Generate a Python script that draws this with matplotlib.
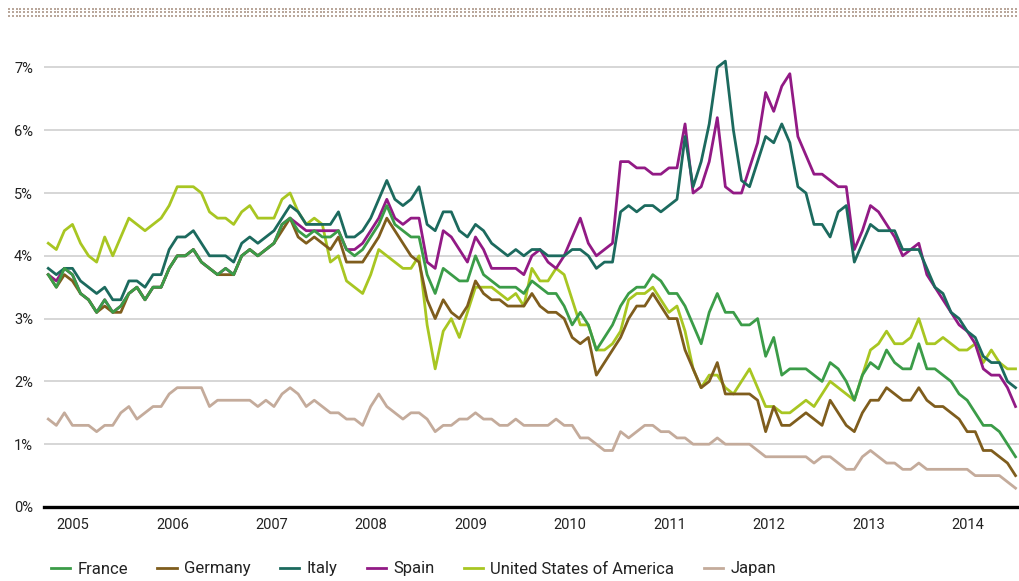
import numpy as np
import matplotlib
matplotlib.use("Agg")
import matplotlib.pyplot as plt

plt.rcParams['font.family'] = ['Roboto', 'DejaVu Sans']

# month-end 10y yields, Dec 2004 .. Dec 2014 (%)
france = [
    3.7, 3.5, 3.8, 3.7, 3.4, 3.3, 3.1, 3.3, 3.1, 3.2,
    3.4, 3.5, 3.3, 3.5, 3.5, 3.8, 4.0, 4.0, 4.1, 3.9,
    3.8, 3.7, 3.8, 3.7, 4.0, 4.1, 4.0, 4.1, 4.2, 4.5,
    4.6, 4.4, 4.3, 4.4, 4.3, 4.3, 4.4, 4.1, 4.0, 4.1,
    4.3, 4.5, 4.8, 4.5, 4.4, 4.3, 4.3, 3.7, 3.4, 3.8,
    3.7, 3.6, 3.6, 4.0, 3.7, 3.6, 3.5, 3.5, 3.5, 3.4,
    3.6, 3.5, 3.4, 3.4, 3.2, 2.9, 3.1, 2.9, 2.5, 2.7,
    2.9, 3.2, 3.4, 3.5, 3.5, 3.7, 3.6, 3.4, 3.4, 3.2,
    2.9, 2.6, 3.1, 3.4, 3.1, 3.1, 2.9, 2.9, 3.0, 2.4,
    2.7, 2.1, 2.2, 2.2, 2.2, 2.1, 2.0, 2.3, 2.2, 2.0,
    1.7, 2.1, 2.3, 2.2, 2.5, 2.3, 2.2, 2.2, 2.6, 2.2,
    2.2, 2.1, 2.0, 1.8, 1.7, 1.5, 1.3, 1.3, 1.2, 1.0,
    0.8]
germany = [
    3.7, 3.5, 3.7, 3.6, 3.4, 3.3, 3.1, 3.2, 3.1, 3.1,
    3.4, 3.5, 3.3, 3.5, 3.5, 3.8, 4.0, 4.0, 4.1, 3.9,
    3.8, 3.7, 3.7, 3.7, 4.0, 4.1, 4.0, 4.1, 4.2, 4.4,
    4.6, 4.3, 4.2, 4.3, 4.2, 4.1, 4.3, 3.9, 3.9, 3.9,
    4.1, 4.3, 4.6, 4.4, 4.2, 4.0, 3.9, 3.3, 3.0, 3.3,
    3.1, 3.0, 3.2, 3.6, 3.4, 3.3, 3.3, 3.2, 3.2, 3.2,
    3.4, 3.2, 3.1, 3.1, 3.0, 2.7, 2.6, 2.7, 2.1, 2.3,
    2.5, 2.7, 3.0, 3.2, 3.2, 3.4, 3.2, 3.0, 3.0, 2.5,
    2.2, 1.9, 2.0, 2.3, 1.8, 1.8, 1.8, 1.8, 1.7, 1.2,
    1.6, 1.3, 1.3, 1.4, 1.5, 1.4, 1.3, 1.7, 1.5, 1.3,
    1.2, 1.5, 1.7, 1.7, 1.9, 1.8, 1.7, 1.7, 1.9, 1.7,
    1.6, 1.6, 1.5, 1.4, 1.2, 1.2, 0.9, 0.9, 0.8, 0.7,
    0.5]
italy = [
    3.8, 3.7, 3.8, 3.8, 3.6, 3.5, 3.4, 3.5, 3.3, 3.3,
    3.6, 3.6, 3.5, 3.7, 3.7, 4.1, 4.3, 4.3, 4.4, 4.2,
    4.0, 4.0, 4.0, 3.9, 4.2, 4.3, 4.2, 4.3, 4.4, 4.6,
    4.8, 4.7, 4.5, 4.5, 4.5, 4.5, 4.7, 4.3, 4.3, 4.4,
    4.6, 4.9, 5.2, 4.9, 4.8, 4.9, 5.1, 4.5, 4.4, 4.7,
    4.7, 4.4, 4.3, 4.5, 4.4, 4.2, 4.1, 4.0, 4.1, 4.0,
    4.1, 4.1, 4.0, 4.0, 4.0, 4.1, 4.1, 4.0, 3.8, 3.9,
    3.9, 4.7, 4.8, 4.7, 4.8, 4.8, 4.7, 4.8, 4.9, 5.9,
    5.1, 5.5, 6.1, 7.0, 7.1, 6.0, 5.2, 5.1, 5.5, 5.9,
    5.8, 6.1, 5.8, 5.1, 5.0, 4.5, 4.5, 4.3, 4.7, 4.8,
    3.9, 4.2, 4.5, 4.4, 4.4, 4.4, 4.1, 4.1, 4.1, 3.8,
    3.5, 3.4, 3.1, 3.0, 2.8, 2.7, 2.4, 2.3, 2.3, 2.0,
    1.9]
spain = [
    3.7, 3.6, 3.8, 3.7, 3.4, 3.3, 3.1, 3.3, 3.1, 3.2,
    3.4, 3.5, 3.3, 3.5, 3.5, 3.8, 4.0, 4.0, 4.1, 3.9,
    3.8, 3.7, 3.8, 3.7, 4.0, 4.1, 4.0, 4.1, 4.2, 4.5,
    4.6, 4.5, 4.4, 4.4, 4.4, 4.4, 4.4, 4.1, 4.1, 4.2,
    4.4, 4.6, 4.9, 4.6, 4.5, 4.6, 4.6, 3.9, 3.8, 4.4,
    4.3, 4.1, 3.9, 4.3, 4.1, 3.8, 3.8, 3.8, 3.8, 3.7,
    4.0, 4.1, 3.9, 3.8, 4.0, 4.3, 4.6, 4.2, 4.0, 4.1,
    4.2, 5.5, 5.5, 5.4, 5.4, 5.3, 5.3, 5.4, 5.4, 6.1,
    5.0, 5.1, 5.5, 6.2, 5.1, 5.0, 5.0, 5.4, 5.8, 6.6,
    6.3, 6.7, 6.9, 5.9, 5.6, 5.3, 5.3, 5.2, 5.1, 5.1,
    4.1, 4.4, 4.8, 4.7, 4.5, 4.3, 4.0, 4.1, 4.2, 3.7,
    3.5, 3.3, 3.1, 2.9, 2.8, 2.6, 2.2, 2.1, 2.1, 1.9,
    1.6]
usa = [
    4.2, 4.1, 4.4, 4.5, 4.2, 4.0, 3.9, 4.3, 4.0, 4.3,
    4.6, 4.5, 4.4, 4.5, 4.6, 4.8, 5.1, 5.1, 5.1, 5.0,
    4.7, 4.6, 4.6, 4.5, 4.7, 4.8, 4.6, 4.6, 4.6, 4.9,
    5.0, 4.7, 4.5, 4.6, 4.5, 3.9, 4.0, 3.6, 3.5, 3.4,
    3.7, 4.1, 4.0, 3.9, 3.8, 3.8, 4.0, 2.9, 2.2, 2.8,
    3.0, 2.7, 3.1, 3.5, 3.5, 3.5, 3.4, 3.3, 3.4, 3.2,
    3.8, 3.6, 3.6, 3.8, 3.7, 3.3, 2.9, 2.9, 2.5, 2.5,
    2.6, 2.8, 3.3, 3.4, 3.4, 3.5, 3.3, 3.1, 3.2, 2.8,
    2.2, 1.9, 2.1, 2.1, 1.9, 1.8, 2.0, 2.2, 1.9, 1.6,
    1.6, 1.5, 1.5, 1.6, 1.7, 1.6, 1.8, 2.0, 1.9, 1.8,
    1.7, 2.1, 2.5, 2.6, 2.8, 2.6, 2.6, 2.7, 3.0, 2.6,
    2.6, 2.7, 2.6, 2.5, 2.5, 2.6, 2.3, 2.5, 2.3, 2.2,
    2.2]
japan = [
    1.4, 1.3, 1.5, 1.3, 1.3, 1.3, 1.2, 1.3, 1.3, 1.5,
    1.6, 1.4, 1.5, 1.6, 1.6, 1.8, 1.9, 1.9, 1.9, 1.9,
    1.6, 1.7, 1.7, 1.7, 1.7, 1.7, 1.6, 1.7, 1.6, 1.8,
    1.9, 1.8, 1.6, 1.7, 1.6, 1.5, 1.5, 1.4, 1.4, 1.3,
    1.6, 1.8, 1.6, 1.5, 1.4, 1.5, 1.5, 1.4, 1.2, 1.3,
    1.3, 1.4, 1.4, 1.5, 1.4, 1.4, 1.3, 1.3, 1.4, 1.3,
    1.3, 1.3, 1.3, 1.4, 1.3, 1.3, 1.1, 1.1, 1.0, 0.9,
    0.9, 1.2, 1.1, 1.2, 1.3, 1.3, 1.2, 1.2, 1.1, 1.1,
    1.0, 1.0, 1.0, 1.1, 1.0, 1.0, 1.0, 1.0, 0.9, 0.8,
    0.8, 0.8, 0.8, 0.8, 0.8, 0.7, 0.8, 0.8, 0.7, 0.6,
    0.6, 0.8, 0.9, 0.8, 0.7, 0.7, 0.6, 0.6, 0.7, 0.6,
    0.6, 0.6, 0.6, 0.6, 0.6, 0.5, 0.5, 0.5, 0.5, 0.4,
    0.3]

names = ["France", "Germany", "Italy", "Spain", "United States of America", "Japan"]
series = [france, germany, italy, spain, usa, japan]
colors = ["#3b9c48", "#7f5d1d", "#1c6a5e", "#921a85", "#a8c622", "#c4ab9b"]
years = ["2005", "2006", "2007", "2008", "2009", "2010", "2011", "2012", "2013", "2014"]

fig = plt.figure(figsize=(10.19, 5.81), dpi=100)

# dotted band on top
top = fig.add_axes([0, 1 - 20 / 581, 1, 20 / 581])
top.set_xlim(0, 1019)
top.set_ylim(20, 0)
top.axis("off")
dx = np.arange(9, 1019, 3.8)
for yy in (9, 12.4, 15.8):
    top.scatter(dx, np.full_like(dx, yy), s=1.6, marker="s", color="#b9a79b", linewidths=0)

ax = fig.add_axes([44 / 1019, 74 / 581, 975 / 1019, 464.7 / 581])
x = np.arange(len(france))
handles = {}
for name, vals, col in reversed(list(zip(names, series, colors))):
    ln, = ax.plot(x, vals, color=col, lw=2.0, label=name)
    handles[name] = ln

ax.set_xlim(-0.53, 120.43)
ax.set_ylim(0, 7.4)
ax.set_yticks(range(8))
ax.set_yticklabels([f"{v}%" for v in range(8)])
ax.set_xticks(np.linspace(3.05, 114.1, len(years)))
ax.set_xticklabels(years)
ax.yaxis.grid(True, color="#cbcbcb", lw=1.1)
ax.set_axisbelow(True)
for s in ("top", "right", "left"):
    ax.spines[s].set_visible(False)
ax.spines["bottom"].set_color("black")
ax.spines["bottom"].set_linewidth(2.4)
ax.tick_params(axis="both", length=0, labelsize=10.5, colors="#222222")
ax.tick_params(axis="y", pad=8)
ax.tick_params(axis="x", pad=8)

fig.legend([handles[n] for n in names], names, loc="center left",
           bbox_to_anchor=(51 / 1019, 1 - 569 / 581), ncol=6, frameon=False,
           handlelength=1.15, handletextpad=0.45, columnspacing=1.75,
           borderpad=0, borderaxespad=0, fontsize=12, labelcolor="#222222")

fig.savefig("out.png", dpi=100)
